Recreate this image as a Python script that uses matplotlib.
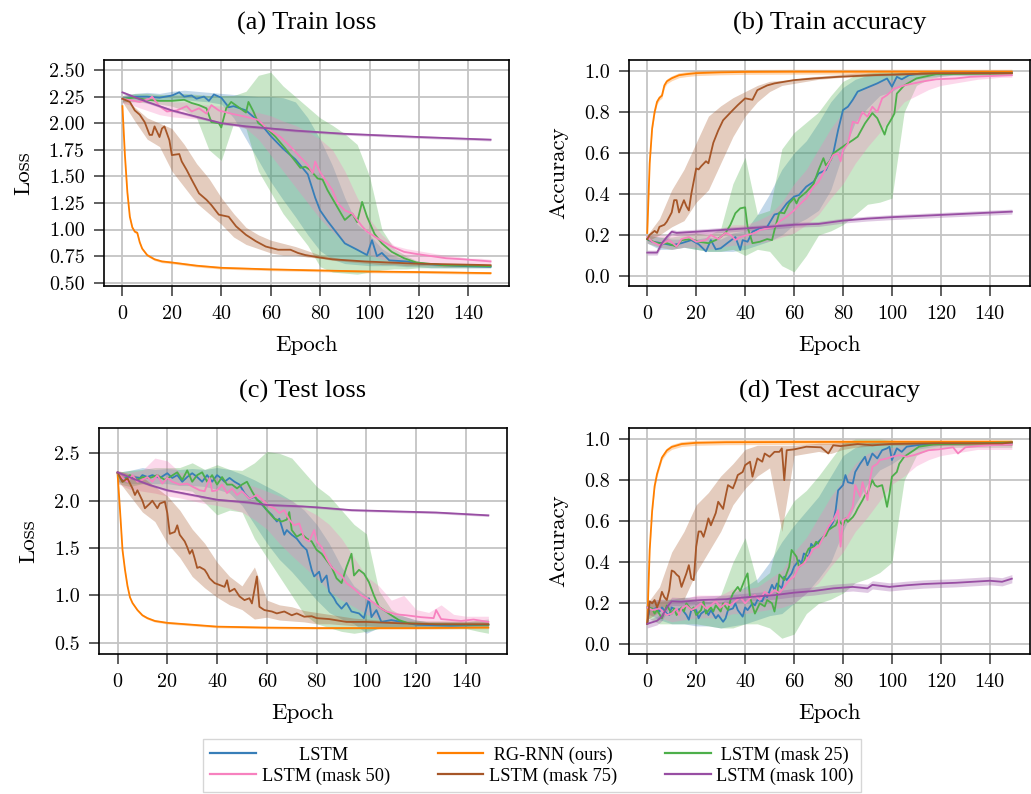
import numpy as np
import matplotlib
matplotlib.use('Agg')
import matplotlib.pyplot as plt
from matplotlib.lines import Line2D
from matplotlib.ticker import FormatStrFormatter

# ---------------- data ----------------
names = ['LSTM', 'RG-RNN (ours)', 'LSTM (mask 25)', 'LSTM (mask 50)', 'LSTM (mask 75)', 'LSTM (mask 100)']
colors = ['#377eb8', '#ff7f00', '#4daf4a', '#f781bf', '#a65628', '#984ea3']

# epochs at which the shaded spread was read
band_ep = [0, 5, 10, 15, 20, 25, 30, 35, 40, 45, 50, 55, 60, 65, 70, 75, 80, 85, 90, 95, 100,
           105, 110, 115, 120, 125, 130, 135, 140, 145, 149]

# (a) train loss
a_lstm_ep = [0, 5, 10, 15, 20, 23, 25, 28, 30, 33, 35, 37, 40, 43, 45, 50, 52, 55, 60, 65, 70, 75, 78, 80, 83,
             85, 90, 95, 99, 101, 103, 105, 108, 115, 120, 130, 140, 149]
a_lstm = [2.23, 2.25, 2.25, 2.24, 2.26, 2.29, 2.25, 2.26, 2.23, 2.25, 2.21, 2.27, 2.24, 2.15, 2.16, 2.12, 2.08,
          2.02, 1.88, 1.76, 1.66, 1.52, 1.30, 1.18, 1.08, 1.02, 0.87, 0.81, 0.76, 0.90, 0.75, 0.78, 0.71, 0.70,
          0.68, 0.665, 0.655, 0.65]
a_rg_ep = [0, 1, 2, 3, 4, 5, 6, 7, 8, 10, 13, 16, 20, 30, 40, 60, 80, 100, 120, 149]
a_rg = [2.16, 1.70, 1.35, 1.12, 1.02, 0.98, 0.97, 0.88, 0.82, 0.76, 0.72, 0.70, 0.69, 0.66, 0.64, 0.625, 0.615,
        0.605, 0.60, 0.59]
a_mask25_ep = [0, 5, 10, 15, 20, 25, 28, 31, 34, 36, 39, 40, 42, 44, 47, 50, 51, 53, 55, 58, 62, 66, 68, 72, 74,
               76, 79, 81, 83, 87, 90, 93, 95, 97, 99, 102, 105, 109, 114, 119, 130, 140, 149]
a_mask25 = [2.23, 2.24, 2.22, 2.21, 2.21, 2.22, 2.19, 2.17, 2.14, 2.01, 2.00, 1.96, 2.14, 2.20, 2.15, 2.10, 2.20,
            2.11, 2.00, 1.96, 1.87, 1.76, 1.70, 1.58, 1.59, 1.56, 1.48, 1.47, 1.37, 1.21, 1.09, 1.15, 1.07, 1.26,
            1.12, 0.96, 0.87, 0.79, 0.73, 0.69, 0.665, 0.66, 0.655]
a_mask50_ep = [0, 7, 11, 12, 15, 18, 22, 26, 28, 31, 34, 36, 39, 44, 50, 55, 58, 60, 64, 68, 72, 75, 77, 78, 80,
               82, 85, 87, 90, 93, 97, 99, 103, 109, 114, 119, 125, 131, 138, 149]
a_mask50 = [2.23, 2.20, 2.23, 2.25, 2.16, 2.11, 2.12, 2.16, 2.11, 2.14, 2.09, 2.17, 2.12, 2.09, 2.06, 2.03, 1.96,
            1.93, 1.87, 1.78, 1.68, 1.61, 1.53, 1.64, 1.54, 1.47, 1.37, 1.25, 1.18, 1.15, 1.03, 0.98, 0.92, 0.84,
            0.79, 0.77, 0.75, 0.73, 0.72, 0.70]
a_mask75_ep = [0, 3, 5, 7, 9, 11, 12, 13, 15, 16, 17, 19, 20, 23, 24, 26, 28, 31, 34, 36, 39, 43, 46, 50, 54,
               58, 63, 68, 71, 74, 79, 85, 98, 118, 149]
a_mask75 = [2.23, 2.20, 2.12, 2.08, 2.01, 1.89, 1.89, 1.97, 1.87, 1.95, 1.97, 1.84, 1.70, 1.71, 1.64, 1.56, 1.47,
            1.34, 1.28, 1.23, 1.14, 1.12, 1.03, 0.95, 0.89, 0.84, 0.81, 0.81, 0.78, 0.76, 0.74, 0.72, 0.70, 0.68,
            0.665]
a_mask100_ep = [0, 5, 10, 20, 30, 40, 50, 60, 70, 80, 90, 100, 120, 149]
a_mask100 = [2.29, 2.245, 2.20, 2.12, 2.06, 2.00, 1.97, 1.95, 1.93, 1.915, 1.90, 1.89, 1.87, 1.845]

a_lstm_lo = [2.20, 2.21, 2.22, 2.21, 2.22, 2.22, 2.21, 2.20, 2.18, 2.05, 1.85, 1.65, 1.45, 1.28, 1.12, 0.95, 0.80,
             0.72, 0.68, 0.67, 0.66, 0.66, 0.66, 0.65, 0.65, 0.64, 0.64, 0.64, 0.64, 0.64, 0.64]
a_lstm_hi = [2.26, 2.28, 2.29, 2.28, 2.30, 2.31, 2.30, 2.29, 2.28, 2.27, 2.26, 2.25, 2.25, 2.24, 2.20, 2.05, 1.85,
             1.60, 1.30, 1.05, 0.95, 0.82, 0.75, 0.72, 0.70, 0.68, 0.67, 0.67, 0.67, 0.66, 0.66]
a_mask25_lo = [2.20, 2.20, 2.19, 2.18, 2.16, 2.12, 2.05, 1.75, 1.65, 2.00, 1.95, 1.55, 1.35, 1.15, 1.00, 0.85,
               0.65, 0.60, 0.59, 0.58, 0.60, 0.62, 0.63, 0.63, 0.64, 0.64, 0.64, 0.64, 0.64, 0.64, 0.64]
a_mask25_hi = [2.26, 2.28, 2.28, 2.27, 2.27, 2.28, 2.27, 2.26, 2.26, 2.26, 2.30, 2.45, 2.48, 2.35, 2.25, 2.15,
               2.05, 1.98, 1.90, 1.80, 1.50, 1.00, 0.82, 0.75, 0.70, 0.68, 0.67, 0.67, 0.67, 0.67, 0.67]
a_mask50_lo = [2.19, 2.16, 2.12, 2.08, 2.06, 2.05, 2.04, 2.03, 2.00, 1.98, 1.95, 1.85, 1.70, 1.55, 1.40, 1.25,
               1.10, 0.98, 0.88, 0.82, 0.76, 0.72, 0.70, 0.70, 0.69, 0.68, 0.68, 0.68, 0.68, 0.68, 0.68]
a_mask50_hi = [2.26, 2.26, 2.25, 2.22, 2.20, 2.20, 2.18, 2.17, 2.16, 2.14, 2.12, 2.10, 2.07, 2.02, 1.98, 1.92,
               1.85, 1.75, 1.55, 1.30, 1.10, 0.95, 0.85, 0.82, 0.80, 0.78, 0.76, 0.75, 0.73, 0.73, 0.72]
a_mask75_lo = [2.20, 2.02, 1.85, 1.78, 1.55, 1.40, 1.25, 1.15, 1.05, 0.93, 0.86, 0.82, 0.78, 0.76, 0.76, 0.74,
               0.73, 0.71, 0.70, 0.69, 0.68, 0.67, 0.67, 0.66, 0.66, 0.66, 0.65, 0.65, 0.65, 0.65, 0.65]
a_mask75_hi = [2.25, 2.15, 2.05, 2.00, 1.95, 1.80, 1.62, 1.48, 1.30, 1.15, 1.02, 0.95, 0.90, 0.87, 0.84, 0.80,
               0.76, 0.74, 0.72, 0.71, 0.70, 0.69, 0.69, 0.68, 0.68, 0.68, 0.68, 0.68, 0.67, 0.67, 0.67]

# (b) train accuracy
b_lstm_ep = [0, 2, 6, 10, 14, 18, 21, 24, 26, 28, 30, 33, 36, 38, 39, 41, 43, 46, 49, 52, 54, 57, 60, 62, 65,
             68, 70, 73, 76, 78, 80, 82, 84, 86, 89, 94, 98, 100, 102, 104, 107, 112, 149]
b_lstm = [0.18, 0.167, 0.16, 0.15, 0.16, 0.175, 0.155, 0.12, 0.175, 0.13, 0.135, 0.163, 0.19, 0.127, 0.175, 0.167,
          0.216, 0.232, 0.24, 0.30, 0.306, 0.354, 0.387, 0.395, 0.436, 0.46, 0.50, 0.517, 0.598, 0.712, 0.81,
          0.826, 0.86, 0.90, 0.915, 0.94, 0.964, 0.924, 0.972, 0.96, 0.98, 0.989, 0.993]
b_rg_ep = [0, 1, 2, 3, 4, 5, 6, 7, 8, 10, 13, 16, 20, 30, 40, 60, 100, 149]
b_rg = [0.21, 0.55, 0.72, 0.80, 0.85, 0.87, 0.88, 0.93, 0.95, 0.965, 0.98, 0.985, 0.99, 0.994, 0.996, 0.997,
        0.997, 0.997]
b_mask25_ep = [0, 4, 8, 12, 14, 18, 21, 25, 28, 30, 32, 34, 36, 38, 40, 41, 43, 46, 49, 51, 52, 54, 56, 58, 60,
               61, 62, 65, 68, 70, 72, 73, 75, 76, 78, 81, 84, 86, 89, 92, 94, 97, 98, 100, 101, 102, 105, 110,
               118, 149]
b_mask25 = [0.18, 0.16, 0.16, 0.143, 0.175, 0.18, 0.167, 0.16, 0.175, 0.19, 0.21, 0.25, 0.306, 0.33, 0.335, 0.24,
            0.16, 0.167, 0.18, 0.175, 0.224, 0.31, 0.306, 0.354, 0.38, 0.354, 0.38, 0.41, 0.45, 0.517, 0.575, 0.54,
            0.566, 0.598, 0.615, 0.64, 0.663, 0.68, 0.745, 0.795, 0.77, 0.69, 0.73, 0.77, 0.793, 0.89, 0.93, 0.964,
            0.985, 0.99]
b_mask50_ep = [0, 2, 5, 9, 12, 14, 17, 20, 24, 26, 29, 32, 34, 36, 38, 41, 44, 46, 49, 52, 54, 57, 60, 62, 65,
               68, 70, 73, 76, 78, 79, 80, 82, 84, 86, 88, 90, 92, 94, 96, 98, 101, 105, 112, 118, 126, 132, 149]
b_mask50 = [0.19, 0.167, 0.15, 0.175, 0.143, 0.18, 0.19, 0.167, 0.175, 0.20, 0.18, 0.21, 0.20, 0.175, 0.19, 0.20,
            0.21, 0.224, 0.232, 0.24, 0.265, 0.29, 0.32, 0.346, 0.38, 0.436, 0.46, 0.525, 0.59, 0.598, 0.56, 0.615,
            0.646, 0.753, 0.745, 0.80, 0.777, 0.826, 0.80, 0.867, 0.883, 0.915, 0.93, 0.948, 0.96, 0.964, 0.972,
            0.98]
b_mask75_ep = [0, 1, 3, 4, 5, 7, 8, 10, 11, 12, 13, 15, 16, 17, 18, 20, 21, 22, 24, 25, 26, 27, 29, 31, 33,
               35, 37, 40, 43, 45, 49, 52, 56, 60, 68, 78, 92, 118, 149]
b_mask75 = [0.18, 0.20, 0.22, 0.21, 0.24, 0.25, 0.265, 0.31, 0.37, 0.37, 0.31, 0.37, 0.34, 0.32, 0.40, 0.525,
            0.52, 0.535, 0.56, 0.55, 0.60, 0.65, 0.71, 0.76, 0.785, 0.81, 0.834, 0.867, 0.86, 0.907, 0.93, 0.94,
            0.948, 0.956, 0.964, 0.972, 0.98, 0.989, 0.99]
b_mask100_ep = [0, 4, 6, 8, 10, 12, 20, 30, 40, 50, 60, 70, 80, 90, 100, 120, 149]
b_mask100 = [0.114, 0.114, 0.16, 0.19, 0.216, 0.21, 0.216, 0.224, 0.232, 0.24, 0.25, 0.254, 0.27, 0.28, 0.287,
             0.298, 0.314]

b_lstm_lo = [0.16, 0.13, 0.13, 0.14, 0.13, 0.12, 0.12, 0.12, 0.13, 0.15, 0.17, 0.20, 0.25, 0.28, 0.32, 0.42,
             0.60, 0.75, 0.82, 0.88, 0.90, 0.94, 0.96, 0.97, 0.975, 0.98, 0.98, 0.98, 0.98, 0.98, 0.98]
b_lstm_hi = [0.20, 0.19, 0.18, 0.18, 0.18, 0.19, 0.18, 0.21, 0.22, 0.30, 0.40, 0.52, 0.60, 0.66, 0.75, 0.85,
             0.92, 0.96, 0.98, 0.99, 0.99, 0.995, 0.995, 0.995, 0.995, 0.995, 0.995, 0.995, 0.995, 0.995, 0.995]
b_mask25_lo = [0.16, 0.14, 0.13, 0.14, 0.13, 0.12, 0.12, 0.13, 0.10, 0.13, 0.12, 0.05, 0.02, 0.10, 0.20, 0.22,
               0.25, 0.30, 0.35, 0.36, 0.38, 0.80, 0.93, 0.96, 0.975, 0.98, 0.98, 0.98, 0.98, 0.98, 0.98]
b_mask25_hi = [0.20, 0.19, 0.19, 0.20, 0.21, 0.20, 0.23, 0.45, 0.58, 0.30, 0.32, 0.62, 0.70, 0.75, 0.80, 0.88,
               0.95, 0.98, 0.99, 0.995, 0.995, 0.995, 0.995, 0.995, 0.995, 0.995, 0.995, 0.995, 0.995, 0.995, 0.995]
b_mask50_lo = [0.16, 0.14, 0.13, 0.14, 0.14, 0.13, 0.14, 0.15, 0.15, 0.16, 0.17, 0.19, 0.21, 0.25, 0.30, 0.38,
               0.45, 0.55, 0.63, 0.70, 0.78, 0.85, 0.88, 0.91, 0.93, 0.94, 0.95, 0.96, 0.965, 0.97, 0.97]
b_mask50_hi = [0.20, 0.20, 0.20, 0.22, 0.22, 0.22, 0.23, 0.25, 0.25, 0.27, 0.30, 0.36, 0.45, 0.52, 0.62, 0.72,
               0.80, 0.88, 0.93, 0.95, 0.96, 0.965, 0.97, 0.975, 0.978, 0.98, 0.982, 0.984, 0.985, 0.985, 0.985]
b_mask75_lo = [0.17, 0.20, 0.24, 0.27, 0.36, 0.42, 0.55, 0.68, 0.78, 0.85, 0.90, 0.93, 0.94, 0.95, 0.96, 0.965,
               0.97, 0.972, 0.975, 0.977, 0.978, 0.98, 0.98, 0.982, 0.982, 0.984, 0.984, 0.985, 0.985, 0.985, 0.985]
b_mask75_hi = [0.20, 0.28, 0.42, 0.52, 0.65, 0.78, 0.83, 0.87, 0.90, 0.93, 0.95, 0.955, 0.96, 0.97, 0.975, 0.98,
               0.985, 0.99, 0.99, 0.99, 0.99, 0.992, 0.992, 0.993, 0.993, 0.994, 0.994, 0.995, 0.995, 0.995, 0.995]

# (c) test loss
c_lstm_ep = [0, 2, 4, 6, 9, 10, 12, 14, 17, 20, 22, 24, 26, 28, 30, 32, 34, 36, 38, 40, 41, 43, 45, 47, 49,
             51, 53, 55, 57, 60, 62, 64, 65, 67, 68, 70, 72, 74, 76, 78, 79, 81, 82, 84, 85, 87, 88, 90, 92, 94,
             97, 99, 101, 102, 104, 106, 110, 114, 120, 134, 149]
c_lstm = [2.29, 2.22, 2.25, 2.25, 2.24, 2.27, 2.25, 2.27, 2.24, 2.29, 2.24, 2.27, 2.20, 2.25, 2.29, 2.25, 2.20,
          2.27, 2.20, 2.27, 2.25, 2.20, 2.24, 2.20, 2.17, 2.08, 2.02, 2.04, 1.99, 1.90, 1.85, 1.78, 1.81, 1.64,
          1.69, 1.64, 1.60, 1.53, 1.48, 1.27, 1.20, 1.25, 1.14, 1.21, 1.04, 0.97, 0.92, 0.86, 0.92, 0.83, 0.81,
          0.76, 0.97, 0.77, 0.845, 0.72, 0.74, 0.72, 0.69, 0.68, 0.69]
c_rg_ep = [0, 1, 2, 3, 4, 5, 6, 8, 10, 12, 15, 20, 30, 40, 60, 80, 100, 120, 149]
c_rg = [2.29, 1.90, 1.48, 1.27, 1.10, 0.98, 0.92, 0.845, 0.79, 0.76, 0.73, 0.71, 0.69, 0.67, 0.66, 0.655, 0.655,
        0.655, 0.66]
c_mask25_ep = [0, 2, 5, 8, 10, 13, 16, 19, 21, 24, 26, 28, 30, 32, 34, 36, 38, 40, 42, 44, 46, 48, 50, 52, 54,
               56, 58, 60, 63, 66, 68, 69, 70, 72, 74, 76, 78, 80, 82, 84, 86, 88, 90, 92, 94, 95, 97, 99, 101,
               103, 105, 107, 110, 113, 117, 128, 149]
c_mask25 = [2.29, 2.20, 2.27, 2.22, 2.25, 2.24, 2.27, 2.22, 2.25, 2.30, 2.22, 2.32, 2.20, 2.27, 2.30, 2.20, 2.27,
            2.17, 2.25, 2.17, 2.17, 2.13, 2.17, 2.20, 2.10, 2.01, 1.97, 1.90, 1.81, 1.78, 1.80, 1.88, 1.69, 1.62,
            1.65, 1.60, 1.57, 1.48, 1.44, 1.37, 1.30, 1.18, 1.13, 1.30, 1.44, 1.21, 1.27, 1.23, 1.14, 1.00, 0.88,
            0.845, 0.79, 0.74, 0.705, 0.695, 0.69]
c_mask50_ep = [0, 2, 4, 6, 8, 10, 12, 14, 16, 18, 20, 22, 25, 28, 30, 33, 35, 37, 38, 40, 42, 44, 46, 48, 50,
               53, 56, 59, 61, 63, 65, 67, 69, 71, 73, 75, 77, 79, 80, 82, 84, 86, 88, 90, 92, 95, 98, 100, 103,
               106, 108, 112, 116, 122, 127, 128, 130, 138, 143, 149]
c_mask50 = [2.29, 2.24, 2.20, 2.27, 2.20, 2.22, 2.25, 2.20, 2.27, 2.18, 2.24, 2.20, 2.17, 2.18, 2.15, 2.11, 2.10,
            2.24, 2.10, 2.11, 2.17, 2.08, 2.13, 2.06, 2.10, 2.02, 2.06, 1.99, 1.94, 1.92, 1.87, 1.90, 1.80, 1.74,
            1.76, 1.60, 1.57, 1.69, 1.57, 1.51, 1.39, 1.30, 1.25, 1.21, 1.13, 1.07, 1.00, 0.97, 0.92, 0.86, 0.83,
            0.80, 0.79, 0.77, 0.76, 0.845, 0.75, 0.73, 0.745, 0.72]
c_mask75_ep = [0, 2, 4, 6, 7, 8, 10, 11, 13, 14, 16, 17, 19, 20, 21, 23, 24, 25, 27, 28, 29, 30, 31, 32, 33,
               35, 36, 37, 39, 41, 43, 44, 45, 47, 49, 51, 53, 54, 56, 57, 59, 62, 64, 67, 70, 72, 75, 78, 80,
               85, 92, 100, 114, 128, 149]
c_mask75 = [2.30, 2.20, 2.235, 2.13, 2.06, 2.11, 2.00, 1.92, 1.97, 2.00, 1.92, 1.97, 1.99, 1.87, 1.65, 1.67,
            1.74, 1.64, 1.57, 1.51, 1.44, 1.48, 1.39, 1.29, 1.30, 1.27, 1.23, 1.18, 1.13, 1.11, 1.09, 1.16, 1.04,
            1.07, 0.99, 0.95, 0.97, 0.915, 1.20, 0.88, 0.845, 0.83, 0.81, 0.83, 0.79, 0.81, 0.775, 0.78, 0.76,
            0.75, 0.72, 0.72, 0.705, 0.695, 0.695]
c_mask100_ep = [0, 6, 13, 20, 28, 40, 53, 60, 74, 80, 94, 114, 128, 149]
c_mask100 = [2.30, 2.235, 2.165, 2.11, 2.07, 2.01, 1.98, 1.955, 1.94, 1.93, 1.90, 1.885, 1.875, 1.845]

c_lstm_lo = [2.20, 2.18, 2.18, 2.18, 2.18, 2.16, 2.16, 2.15, 2.12, 2.08, 1.95, 1.75, 1.55, 1.38, 1.25, 1.10,
             0.95, 0.82, 0.75, 0.70, 0.60, 0.66, 0.66, 0.66, 0.66, 0.66, 0.66, 0.66, 0.66, 0.66, 0.66]
c_lstm_hi = [2.30, 2.32, 2.35, 2.33, 2.34, 2.33, 2.34, 2.33, 2.35, 2.33, 2.28, 2.22, 2.15, 2.08, 2.00, 1.90,
             1.75, 1.55, 1.30, 1.10, 1.00, 0.88, 0.80, 0.78, 0.74, 0.72, 0.72, 0.72, 0.72, 0.72, 0.72]
c_mask25_lo = [2.18, 2.15, 2.18, 2.16, 2.12, 2.12, 2.10, 1.98, 1.85, 1.90, 1.88, 1.60, 1.40, 1.20, 1.00, 0.80,
               0.70, 0.66, 0.62, 0.60, 0.62, 0.65, 0.66, 0.66, 0.66, 0.65, 0.65, 0.65, 0.65, 0.62, 0.60]
c_mask25_hi = [2.30, 2.32, 2.33, 2.35, 2.35, 2.35, 2.40, 2.33, 2.38, 2.33, 2.32, 2.40, 2.52, 2.50, 2.45, 2.30,
               2.15, 2.05, 1.90, 1.75, 1.65, 1.05, 0.85, 0.78, 0.74, 0.72, 0.72, 0.72, 0.72, 0.74, 0.75]
c_mask50_lo = [2.18, 2.12, 2.10, 2.08, 2.05, 2.03, 2.00, 1.97, 1.95, 1.92, 1.88, 1.80, 1.70, 1.55, 1.42, 1.30,
               1.18, 1.05, 0.95, 0.88, 0.80, 0.75, 0.72, 0.70, 0.70, 0.69, 0.69, 0.69, 0.69, 0.69, 0.69]
c_mask50_hi = [2.30, 2.30, 2.32, 2.45, 2.42, 2.30, 2.28, 2.26, 2.25, 2.22, 2.18, 2.15, 2.10, 2.05, 2.00, 1.92,
               1.85, 1.75, 1.60, 1.40, 1.20, 1.10, 0.95, 1.00, 0.85, 0.82, 0.90, 0.80, 0.78, 0.78, 0.78]
c_mask75_lo = [2.22, 2.05, 1.88, 1.78, 1.55, 1.40, 1.20, 1.08, 0.98, 0.90, 0.85, 0.75, 0.77, 0.74, 0.73, 0.72,
               0.70, 0.70, 0.69, 0.68, 0.68, 0.67, 0.67, 0.67, 0.67, 0.67, 0.67, 0.67, 0.67, 0.67, 0.67]
c_mask75_hi = [2.32, 2.28, 2.25, 2.15, 2.05, 1.90, 1.70, 1.55, 1.35, 1.20, 1.10, 1.30, 0.95, 0.90, 0.88, 0.84,
               0.82, 0.80, 0.78, 0.76, 0.75, 0.74, 0.74, 0.73, 0.73, 0.73, 0.73, 0.73, 0.73, 0.73, 0.73]

# (d) test accuracy
d_lstm_ep = [0, 1, 2, 4, 5, 6, 8, 9, 10, 12, 14, 16, 17, 18, 20, 21, 22, 24, 25, 26, 28, 29, 31, 32, 33, 35,
             36, 37, 39, 40, 41, 43, 44, 45, 47, 48, 49, 51, 52, 53, 55, 56, 57, 59, 60, 62, 63, 64, 66, 67, 68,
             70, 72, 74, 76, 77, 78, 80, 81, 82, 84, 85, 87, 89, 90, 92, 94, 96, 98, 99, 100, 102, 104, 106, 110,
             117, 149]
d_lstm = [0.10, 0.18, 0.167, 0.18, 0.16, 0.18, 0.15, 0.143, 0.18, 0.167, 0.175, 0.143, 0.12, 0.167, 0.167, 0.127,
          0.15, 0.167, 0.143, 0.167, 0.127, 0.143, 0.11, 0.127, 0.167, 0.175, 0.20, 0.167, 0.135, 0.18, 0.167,
          0.20, 0.19, 0.216, 0.21, 0.24, 0.23, 0.29, 0.265, 0.297, 0.273, 0.33, 0.313, 0.346, 0.378, 0.41, 0.394,
          0.443, 0.427, 0.49, 0.476, 0.50, 0.524, 0.557, 0.597, 0.654, 0.75, 0.776, 0.825, 0.79, 0.784, 0.84,
          0.88, 0.914, 0.873, 0.93, 0.906, 0.946, 0.955, 0.963, 0.898, 0.955, 0.938, 0.963, 0.97, 0.979, 0.982]
d_rg_ep = [0, 1, 2, 3, 4, 5, 6, 8, 10, 14, 20, 32, 60, 100, 149]
d_rg = [0.10, 0.46, 0.65, 0.77, 0.83, 0.87, 0.91, 0.945, 0.962, 0.976, 0.982, 0.985, 0.986, 0.987, 0.987]
d_mask25_ep = [0, 2, 3, 4, 6, 7, 8, 10, 11, 12, 14, 15, 16, 18, 19, 20, 22, 23, 24, 26, 27, 28, 30, 31, 33,
               34, 35, 37, 38, 39, 40, 41, 42, 44, 45, 46, 48, 49, 51, 52, 53, 54, 56, 57, 58, 59, 61, 62, 64, 65,
               66, 68, 69, 70, 72, 73, 74, 76, 77, 78, 80, 81, 82, 84, 85, 86, 88, 89, 90, 92, 93, 94, 96, 97, 98,
               99, 100, 102, 103, 105, 106, 109, 111, 117, 149]
d_mask25 = [0.18, 0.175, 0.15, 0.167, 0.127, 0.16, 0.19, 0.15, 0.175, 0.143, 0.18, 0.16, 0.20, 0.167, 0.18,
            0.143, 0.167, 0.21, 0.15, 0.18, 0.16, 0.19, 0.16, 0.20, 0.167, 0.216, 0.248, 0.28, 0.26, 0.29, 0.32,
            0.346, 0.23, 0.15, 0.175, 0.20, 0.185, 0.216, 0.20, 0.16, 0.23, 0.34, 0.313, 0.346, 0.378, 0.46,
            0.427, 0.378, 0.40, 0.443, 0.467, 0.476, 0.50, 0.49, 0.524, 0.53, 0.557, 0.573, 0.58, 0.606, 0.58,
            0.614, 0.597, 0.62, 0.638, 0.662, 0.703, 0.727, 0.735, 0.80, 0.776, 0.768, 0.776, 0.727, 0.67, 0.735,
            0.817, 0.84, 0.88, 0.914, 0.922, 0.946, 0.963, 0.974, 0.984]
d_mask50_ep = [0, 2, 5, 8, 10, 12, 13, 14, 16, 18, 20, 22, 24, 26, 28, 30, 32, 34, 36, 38, 40, 42, 44, 46, 48,
               50, 52, 54, 56, 58, 60, 62, 64, 66, 68, 70, 72, 74, 76, 78, 79, 80, 82, 84, 85, 87, 88, 90, 91, 92,
               94, 95, 98, 100, 103, 106, 109, 113, 115, 119, 125, 127, 130, 135, 140, 149]
d_mask50 = [0.18, 0.167, 0.175, 0.143, 0.15, 0.175, 0.143, 0.175, 0.19, 0.167, 0.18, 0.20, 0.175, 0.19, 0.21,
            0.18, 0.20, 0.19, 0.21, 0.23, 0.20, 0.224, 0.24, 0.216, 0.256, 0.24, 0.265, 0.25, 0.28, 0.313, 0.33,
            0.378, 0.394, 0.427, 0.467, 0.476, 0.524, 0.573, 0.606, 0.654, 0.476, 0.606, 0.62, 0.67, 0.776, 0.72,
            0.79, 0.703, 0.80, 0.865, 0.88, 0.898, 0.906, 0.914, 0.922, 0.914, 0.922, 0.938, 0.946, 0.95, 0.96,
            0.93, 0.96, 0.966, 0.97, 0.974]
d_mask75_ep = [0, 1, 2, 3, 4, 5, 6, 7, 8, 9, 10, 11, 12, 13, 14, 16, 17, 18, 19, 20, 21, 22, 23, 24, 25, 26,
               28, 29, 31, 32, 33, 35, 36, 37, 39, 40, 42, 43, 45, 47, 48, 50, 52, 54, 55, 56, 57, 60, 65, 71, 74,
               76, 79, 86, 92, 99, 119, 145, 149]
d_mask75 = [0.10, 0.21, 0.20, 0.216, 0.18, 0.21, 0.256, 0.23, 0.216, 0.265, 0.36, 0.354, 0.34, 0.33, 0.28, 0.346,
            0.386, 0.32, 0.313, 0.476, 0.55, 0.55, 0.524, 0.565, 0.614, 0.58, 0.64, 0.695, 0.66, 0.72, 0.776,
            0.76, 0.79, 0.825, 0.84, 0.873, 0.89, 0.817, 0.906, 0.89, 0.93, 0.914, 0.938, 0.938, 0.955, 0.80,
            0.946, 0.95, 0.963, 0.96, 0.93, 0.97, 0.966, 0.976, 0.97, 0.976, 0.98, 0.979, 0.984]
d_mask100_ep = [0, 4, 6, 8, 10, 14, 22, 32, 41, 52, 60, 68, 76, 84, 90, 92, 99, 106, 113, 119, 126, 133, 140,
                145, 149]
d_mask100 = [0.10, 0.115, 0.135, 0.18, 0.21, 0.208, 0.216, 0.22, 0.23, 0.24, 0.252, 0.26, 0.273, 0.28, 0.273,
             0.29, 0.28, 0.288, 0.294, 0.297, 0.30, 0.305, 0.31, 0.305, 0.32]

d_lstm_lo = [0.15, 0.12, 0.10, 0.10, 0.09, 0.09, 0.08, 0.09, 0.10, 0.12, 0.14, 0.15, 0.20, 0.25, 0.32, 0.40,
             0.55, 0.68, 0.78, 0.85, 0.88, 0.92, 0.95, 0.96, 0.97, 0.97, 0.97, 0.97, 0.97, 0.97, 0.97]
d_lstm_hi = [0.21, 0.22, 0.22, 0.22, 0.21, 0.21, 0.20, 0.25, 0.28, 0.32, 0.40, 0.50, 0.58, 0.65, 0.72, 0.82,
             0.92, 0.96, 0.98, 0.99, 0.99, 0.99, 0.99, 0.99, 0.99, 0.99, 0.99, 0.99, 0.99, 0.99, 0.99]
d_mask25_lo = [0.13, 0.10, 0.10, 0.10, 0.10, 0.09, 0.08, 0.08, 0.10, 0.10, 0.08, 0.03, 0.05, 0.15, 0.20, 0.22,
               0.25, 0.30, 0.32, 0.35, 0.40, 0.80, 0.92, 0.95, 0.96, 0.96, 0.96, 0.96, 0.96, 0.96, 0.96]
d_mask25_hi = [0.21, 0.21, 0.22, 0.23, 0.22, 0.21, 0.24, 0.40, 0.52, 0.30, 0.35, 0.60, 0.70, 0.75, 0.82, 0.90,
               0.98, 1.00, 1.00, 1.00, 0.995, 0.99, 0.99, 0.99, 0.99, 0.99, 0.99, 0.99, 0.99, 0.99, 0.99]
d_mask50_lo = [0.15, 0.13, 0.11, 0.12, 0.13, 0.13, 0.13, 0.15, 0.15, 0.16, 0.17, 0.18, 0.20, 0.25, 0.30, 0.38,
               0.45, 0.55, 0.62, 0.70, 0.78, 0.82, 0.87, 0.90, 0.92, 0.93, 0.94, 0.95, 0.95, 0.95, 0.95]
d_mask50_hi = [0.21, 0.22, 0.21, 0.22, 0.24, 0.24, 0.24, 0.27, 0.27, 0.28, 0.32, 0.36, 0.45, 0.52, 0.62, 0.72,
               0.80, 0.88, 0.93, 0.95, 0.96, 0.97, 0.975, 0.98, 0.98, 0.985, 0.985, 0.985, 0.985, 0.985, 0.985]
d_mask75_lo = [0.12, 0.16, 0.22, 0.22, 0.35, 0.45, 0.55, 0.68, 0.76, 0.82, 0.86, 0.55, 0.92, 0.93, 0.94, 0.93,
               0.95, 0.96, 0.965, 0.97, 0.97, 0.97, 0.97, 0.97, 0.97, 0.97, 0.97, 0.97, 0.97, 0.97, 0.97]
d_mask75_hi = [0.20, 0.28, 0.45, 0.55, 0.68, 0.74, 0.82, 0.88, 0.95, 0.97, 0.97, 0.97, 0.97, 0.975, 0.98, 0.98,
               0.985, 0.985, 0.985, 0.985, 0.985, 0.985, 0.985, 0.985, 0.985, 0.985, 0.985, 0.985, 0.985, 0.985,
               0.985]

# half-width of the (very narrow) spread for RG-RNN and mask 100
thin_loss = 0.012
thin_acc = 0.012

# ---------------- plotting ----------------
tick_font = 'cmr10'
text_font = ['Liberation Serif', 'DejaVu Serif']

fig = plt.figure(figsize=(10.31, 7.94), dpi=100)

panels = [
    dict(pos=[0.1009, 0.6398, 0.3928, 0.2846], title='(a) Train loss', ylabel='Loss',
         ylim=(0.469, 2.594), yticks=np.arange(0.5, 2.51, 0.25), yfmt='%.2f',
         runs=[(a_lstm_ep, a_lstm, (a_lstm_lo, a_lstm_hi)),
               (a_rg_ep, a_rg, thin_loss),
               (a_mask25_ep, a_mask25, (a_mask25_lo, a_mask25_hi)),
               (a_mask50_ep, a_mask50, (a_mask50_lo, a_mask50_hi)),
               (a_mask75_ep, a_mask75, (a_mask75_lo, a_mask75_hi)),
               (a_mask100_ep, a_mask100, thin_loss)]),
    dict(pos=[0.6101, 0.6398, 0.389, 0.2846], title='(b) Train accuracy', ylabel='Accuracy',
         ylim=(-0.049, 1.054), yticks=np.arange(0, 1.01, 0.2), yfmt='%.1f',
         runs=[(b_lstm_ep, b_lstm, (b_lstm_lo, b_lstm_hi)),
               (b_rg_ep, b_rg, thin_acc),
               (b_mask25_ep, b_mask25, (b_mask25_lo, b_mask25_hi)),
               (b_mask50_ep, b_mask50, (b_mask50_lo, b_mask50_hi)),
               (b_mask75_ep, b_mask75, (b_mask75_lo, b_mask75_hi)),
               (b_mask100_ep, b_mask100, thin_acc)]),
    dict(pos=[0.096, 0.1763, 0.3957, 0.2846], title='(c) Test loss', ylabel='Loss',
         ylim=(0.381, 2.767), yticks=np.arange(0.5, 2.51, 0.5), yfmt='%.1f',
         runs=[(c_lstm_ep, c_lstm, (c_lstm_lo, c_lstm_hi)),
               (c_rg_ep, c_rg, thin_loss),
               (c_mask25_ep, c_mask25, (c_mask25_lo, c_mask25_hi)),
               (c_mask50_ep, c_mask50, (c_mask50_lo, c_mask50_hi)),
               (c_mask75_ep, c_mask75, (c_mask75_lo, c_mask75_hi)),
               (c_mask100_ep, c_mask100, thin_loss)]),
    dict(pos=[0.6101, 0.1763, 0.389, 0.2846], title='(d) Test accuracy', ylabel='Accuracy',
         ylim=(-0.047, 1.054), yticks=np.arange(0, 1.01, 0.2), yfmt='%.1f',
         runs=[(d_lstm_ep, d_lstm, (d_lstm_lo, d_lstm_hi)),
               (d_rg_ep, d_rg, thin_acc),
               (d_mask25_ep, d_mask25, (d_mask25_lo, d_mask25_hi)),
               (d_mask50_ep, d_mask50, (d_mask50_lo, d_mask50_hi)),
               (d_mask75_ep, d_mask75, (d_mask75_lo, d_mask75_hi)),
               (d_mask100_ep, d_mask100, 0.02)]),
]

for p in panels:
    ax = fig.add_axes(p['pos'])
    ax.set_axisbelow(True)
    ax.grid(True, color='#c4c4c4', lw=1.3)

    # shaded spread first, lines on top
    for (ep, val, band), col in zip(p['runs'], colors):
        if isinstance(band, tuple):
            ax.fill_between(band_ep, band[0], band[1], color=col, alpha=0.3, lw=0)
        else:
            v = np.array(val)
            ax.fill_between(ep, v - band, v + band, color=col, alpha=0.3, lw=0)
    for (ep, val, band), col in zip(p['runs'], colors):
        ax.plot(ep, val, color=col, lw=1.3)

    ax.set_xlim(-7.45, 156.45)
    ax.set_ylim(*p['ylim'])
    ax.set_xticks(range(0, 141, 20))
    ax.set_yticks(p['yticks'])
    ax.yaxis.set_major_formatter(FormatStrFormatter(p['yfmt']))
    ax.tick_params(direction='out', length=7, width=1.2, color='#444444', pad=7, labelsize=14.5)
    for lab in ax.get_xticklabels() + ax.get_yticklabels():
        lab.set_fontfamily(tick_font)
    for s in ax.spines.values():
        s.set_color('black')
        s.set_linewidth(1.2)

    ax.set_xlabel('Epoch', fontfamily=tick_font, fontsize=16.5, labelpad=9)
    ax.set_ylabel(p['ylabel'], fontfamily=tick_font, fontsize=16.5, labelpad=11)
    ax.set_title(p['title'], fontfamily=text_font, fontsize=19, pad=22)

# legend, filled column-wise so rows read like the original
leg_labels = ['        LSTM        ', ' RG-RNN (ours) ', ' LSTM (mask 25) ',
              'LSTM (mask 50)', 'LSTM (mask 75)', 'LSTM (mask 100)']
handles = [Line2D([], [], color=c, lw=1.6) for c in colors]
order = [0, 3, 1, 4, 2, 5]
leg = fig.legend([handles[i] for i in order], [leg_labels[i] for i in order],
                 loc='lower center', bbox_to_anchor=(0.516, -0.009), ncol=3,
                 prop={'family': text_font, 'size': 13.2}, frameon=True, fancybox=False,
                 edgecolor='#cccccc', handlelength=2.5, handletextpad=0.3,
                 columnspacing=2.6, labelspacing=0.2, borderpad=0.4)
leg.get_frame().set_linewidth(1.0)

fig.savefig('out.png', dpi=100)
